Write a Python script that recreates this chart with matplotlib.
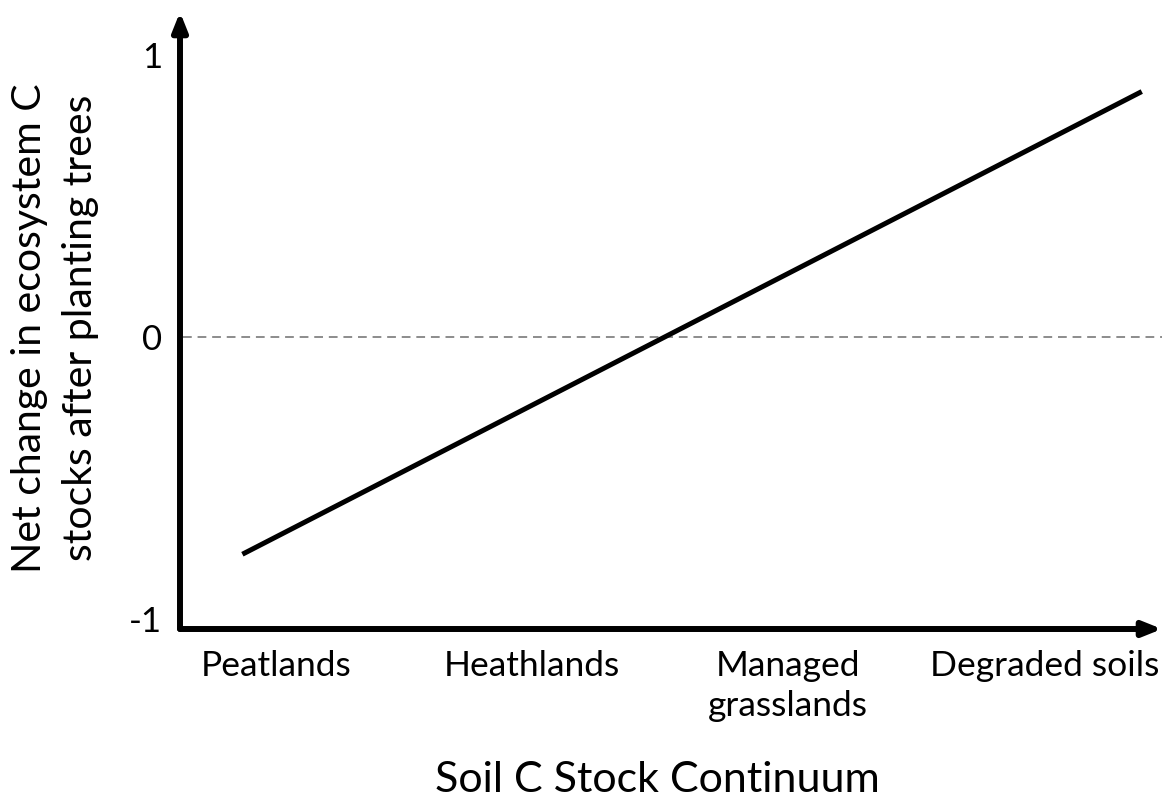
import matplotlib
matplotlib.use("Agg")
import matplotlib.pyplot as plt

# Data
categories = ["Peatlands", "Heathlands", "Managed\ngrasslands", "Degraded soils"]
category_pos = [0, 1, 2, 3]
trend_x = [-0.13, 3.38]
trend_y = [-0.77, 0.87]
y_ticks = [-1, 0, 1]
y_tick_labels = ["-1", "0", "1"]
zero_line = 0

plt.rcParams['font.family'] = ['Lato', 'DejaVu Sans']

W, H = 1163, 805
fig = plt.figure(figsize=(W / 100, H / 100), dpi=100)
ax = fig.add_axes([180 / W, 1 - 629 / H, (1162 - 180) / W, (629 - 12) / H])

ax.set_xlim(-0.3735, 3.459)
ax.set_ylim(-1.035, 1.152)

for s in ax.spines.values():
    s.set_visible(False)

# Axes arrows
arrow_kw = dict(arrowstyle='-|>,head_length=0.55,head_width=0.22', lw=4.3, color='black',
                shrinkA=0, shrinkB=0, mutation_scale=20)
ax.annotate('', xy=(0, 1), xytext=(0, 0), xycoords='axes fraction',
            arrowprops=arrow_kw, annotation_clip=False)
ax.annotate('', xy=(1, 0), xytext=(0, 0), xycoords='axes fraction',
            arrowprops=arrow_kw, annotation_clip=False)

# zero reference line
ax.axhline(zero_line, color='#8c8c8c', lw=1.4, ls=(0, (4.5, 3)), xmin=0.003, xmax=1.0)

# trend line
ax.plot(trend_x, trend_y, color='black', lw=3.6, solid_capstyle='butt')

ax.set_xticks(category_pos)
ax.set_xticklabels(categories, fontsize=25.5, linespacing=1.3)
ax.set_yticks(y_ticks)
ax.set_yticklabels(y_tick_labels, fontsize=25)
ax.tick_params(axis='both', length=0)
ax.tick_params(axis='x', pad=15)
ax.tick_params(axis='y', pad=13)

fig.text(657 / W, 1 - 780 / H, "Soil C Stock Continuum", fontsize=31,
         ha='center', va='center')
fig.text(55 / W, 1 - 328 / H, "Net change in ecosystem C\nstocks after planting trees",
         fontsize=29.5, rotation=90, ha='center', va='center', linespacing=1.45)

fig.savefig("out.png", dpi=100)
